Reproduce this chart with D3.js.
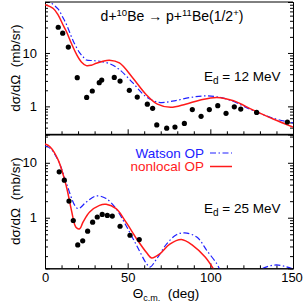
<!DOCTYPE html>
<meta charset="utf-8">
<style>
  body { margin: 0; background: #fff; }
  svg text { font-family: "Liberation Sans", Arial, sans-serif; fill: #000; }
  .axis path { stroke: #000; }
  .axis line { stroke: #000; }
  .axis text { font-size: 13px; }
</style>
<svg width="303" height="306"></svg>
<script src="https://d3js.org/d3.v7.min.js"></script>
<script>
  // ---- data, E_d = 12 MeV ----
  var expAng12 = [8.0, 10.7, 14.1, 19.5, 25.2, 28.6, 32.8, 34.3, 41.9, 45.4, 51.0, 55.8, 61.9, 65.1,
                  67.6, 73.6, 78.6, 84.3, 89.1, 94.4, 99.4, 104.5, 109.5, 114.5, 118.4, 128.0, 146.6];
  var expVal12 = [30.3, 23.5, 12.9, 3.44, 1.47, 1.94, 2.78, 3.11, 3.49, 2.98, 2.0, 1.49, 1.10, 0.92,
                  0.45, 0.39, 0.41, 0.48, 0.87, 0.65, 0.87, 1.03, 0.74, 0.98, 0.89, 0.77, 0.51];
  var nonlocalAng12 = [0, 5, 8, 11, 13, 16, 19, 22, 25, 28, 31, 35, 39, 45, 53, 61, 68, 76, 85, 94, 104, 114, 126, 138, 150];
  var nonlocal12    = [80, 68, 51, 33, 25, 15, 9.5, 6.8, 5.8, 5.9, 6.4, 7.0, 7.3, 6.5, 3.44, 1.69, 1.10, 0.96, 1.10, 1.32, 1.47, 1.27, 0.85, 0.58, 0.41];
  var watsonAng12 = [0, 3, 8, 11, 13, 17, 21, 23, 25, 29, 33, 39, 45, 53, 61, 69, 77, 88, 98, 110, 126, 138, 150];
  var watson12    = [105, 90, 66, 45, 34, 17, 10, 8.5, 7.4, 7.2, 7.0, 6.3, 4.9, 2.78, 1.53, 1.19, 1.25, 1.47, 1.57, 1.37, 0.83, 0.60, 0.49];

  // ---- data, E_d = 25 MeV ----
  var expAng25 = [8.6, 11.7, 14.5, 17.1, 19.8, 22.8, 25.8, 28.8, 31.6, 34.6, 37.7, 40.7, 45.4, 51.4, 57.0];
  var expVal25 = [6.84, 4.82, 2.01, 0.89, 0.32, 0.38, 0.57, 0.83, 1.03, 1.15, 1.10, 1.07, 0.70, 0.48, 0.40];
  var nonlocalAng25 = [0, 3, 8, 13, 16, 18.7, 21, 23, 27, 33, 37, 43, 49, 55.5, 61.5, 64.5, 69.5, 75.5, 82.5, 89.5, 97, 102, 104];
  var nonlocal25    = [22, 19.6, 11.2, 3.63, 1.36, 0.67, 0.63, 0.83, 1.27, 1.68, 1.75, 1.46, 0.83, 0.41, 0.23, 0.185, 0.22, 0.33, 0.40, 0.31, 0.19, 0.115, 0.09];
  var watsonAng25 = [0, 3, 8, 13, 18, 20.2, 25, 31, 37, 43, 49, 55.5, 61.5, 63.5, 67.5, 73.5, 79.5, 84.5, 92, 98, 104, 106, 112,
                     126, 131, 135, 140, 145, 150];
  var watson25    = [20.2, 18.5, 11, 4.2, 1.68, 1.46, 1.93, 2.49, 2.23, 1.46, 0.72, 0.31, 0.144, 0.126, 0.177, 0.33, 0.49, 0.53, 0.44, 0.25, 0.144, 0.11, 0.06,
                     0.07, 0.115, 0.13, 0.138, 0.13, 0.117];

  var xMajor = [0, 50, 100, 150];
  var yMajorTicks = [1, 10];

  // ---- layout ----
  var left = 45, right = 293;
  var svg = d3.select("svg");
  var x = d3.scaleLinear().domain([0, 150]).range([left, right]);

  var panels = [
    { top: 2, bottom: 134.3, domain: [0.3, 90], exp: [expAng12, expVal12],
      nonlocal: [nonlocalAng12, nonlocal12], watson: [watsonAng12, watson12],
      energy: "12", ey: 81, labels: false },
    { top: 134.3, bottom: 268.3, domain: [0.12, 33], exp: [expAng25, expVal25],
      nonlocal: [nonlocalAng25, nonlocal25], watson: [watsonAng25, watson25],
      energy: "25", ey: 213, labels: true }
  ];

  function minorTicks(dom) {
    var t = [];
    for (var e = -2; e <= 2; e++)
      for (var m = 1; m < 10; m++) {
        var v = m * Math.pow(10, e);
        if (m > 1 && v >= dom[0] && v <= dom[1]) t.push(v);
      }
    return t;
  }

  panels.forEach(function(p, i) {
    var y = d3.scaleLog().domain(p.domain).range([p.bottom, p.top]);
    var g = svg.append("g");

    g.append("clipPath").attr("id", "clip" + i)
      .append("rect").attr("x", left).attr("y", p.top)
      .attr("width", right - left).attr("height", p.bottom - p.top);

    // axes (inward ticks)
    var xMinor = d3.range(0, 151, 10).filter(function(d) { return d % 50; });
    var xa = g.append("g").attr("class", "axis").attr("transform", "translate(0," + p.bottom + ")")
      .call(d3.axisBottom(x).tickValues(xMajor).tickSize(-5).tickPadding(4)
        .tickFormat(p.labels ? d3.format("d") : ""));
    // keep the last label inside the window
    xa.selectAll(".tick text").filter(function(d) { return d === 150; }).attr("dx", -1.5);
    g.append("g").attr("class", "axis").attr("transform", "translate(0," + p.bottom + ")")
      .call(d3.axisBottom(x).tickValues(xMinor).tickSize(-3).tickFormat(""));
    g.append("g").attr("class", "axis").attr("transform", "translate(" + left + ",0)")
      .call(d3.axisLeft(y).tickValues(yMajorTicks).tickSize(-5).tickPadding(8).tickFormat(d3.format("d")));
    g.append("g").attr("class", "axis").attr("transform", "translate(" + left + ",0)")
      .call(d3.axisLeft(y).tickValues(minorTicks(p.domain)).tickSize(-3).tickFormat(""));
    g.append("g").attr("class", "axis").attr("transform", "translate(" + right + ",0)")
      .call(d3.axisRight(y).tickValues(yMajorTicks).tickSize(-5).tickFormat(""));
    g.append("g").attr("class", "axis").attr("transform", "translate(" + right + ",0)")
      .call(d3.axisRight(y).tickValues(minorTicks(p.domain)).tickSize(-3).tickFormat(""));
    g.append("line").attr("x1", left).attr("x2", right).attr("y1", p.top).attr("y2", p.top)
      .attr("stroke", "#000");

    // curves
    var line = d3.line().curve(d3.curveCatmullRom.alpha(0.5))
      .x(function(d) { return x(d[0]); })
      .y(function(d) { return y(d[1]); });
    var plot = g.append("g").attr("clip-path", "url(#clip" + i + ")");
    plot.append("path").datum(d3.zip(p.watson[0], p.watson[1]))
      .attr("d", line).attr("fill", "none").attr("stroke", "#2020ff")
      .attr("stroke-width", 1.2).attr("stroke-dasharray", "6,2.5,1.5,2.5");
    plot.append("path").datum(d3.zip(p.nonlocal[0], p.nonlocal[1]))
      .attr("d", line).attr("fill", "none").attr("stroke", "#ff1a1a")
      .attr("stroke-width", 1.5);
    plot.selectAll("circle").data(d3.zip(p.exp[0], p.exp[1])).enter().append("circle")
      .attr("cx", function(d) { return x(d[0]); })
      .attr("cy", function(d) { return y(d[1]); })
      .attr("r", 2.6).attr("fill", "#000");

    // energy label
    var t = g.append("text").attr("x", 204).attr("y", p.ey).attr("font-size", 13.5);
    t.append("tspan").text("E");
    t.append("tspan").attr("dy", 3).attr("font-size", 10).text("d");
    t.append("tspan").attr("dy", -3).text(" = " + p.energy + " MeV");

    // y label
    g.append("text").attr("transform", "translate(20," + ((p.top + p.bottom) / 2) + ") rotate(-90)")
      .attr("text-anchor", "middle").attr("font-size", 13.5)
      .text("d\u03c3/d\u03a9\u00a0\u00a0(mb/sr)");
  });

  // title
  var title = svg.append("text").attr("x", 172).attr("y", 21).attr("text-anchor", "middle").attr("font-size", 14);
  title.append("tspan").text("d+");
  title.append("tspan").attr("dy", -5).attr("font-size", 9.5).text("10");
  title.append("tspan").attr("dy", 5).text("Be \u2192 p+");
  title.append("tspan").attr("dy", -5).attr("font-size", 9.5).text("11");
  title.append("tspan").attr("dy", 5).text("Be(1/2");
  title.append("tspan").attr("dy", -5).attr("font-size", 9.5).text("+");
  title.append("tspan").attr("dy", 5).text(")");

  // legend
  var legend = [
    { name: "Watson OP", color: "#2020ff", dash: "6,2.5,1.5,2.5", w: 1.2, y: 153 },
    { name: "nonlocal OP", color: "#ff1a1a", dash: null, w: 1.5, y: 166.5 }
  ];
  legend.forEach(function(d) {
    svg.append("text").attr("x", 204).attr("y", d.y + 4.5).attr("text-anchor", "end")
      .attr("font-size", 13.5).style("fill", d.color).text(d.name);
    svg.append("line").attr("x1", 210).attr("x2", 232).attr("y1", d.y).attr("y2", d.y)
      .attr("stroke", d.color).attr("stroke-width", d.w).attr("stroke-dasharray", d.dash);
  });

  // x label
  var xl = svg.append("text").attr("x", 166).attr("y", 298).attr("text-anchor", "middle").attr("font-size", 13.5);
  xl.append("tspan").text("\u0398");
  xl.append("tspan").attr("dy", 3).attr("font-size", 9).text("c.m.");
  xl.append("tspan").attr("dy", -3).text("\u00a0\u00a0(deg)");
</script>
